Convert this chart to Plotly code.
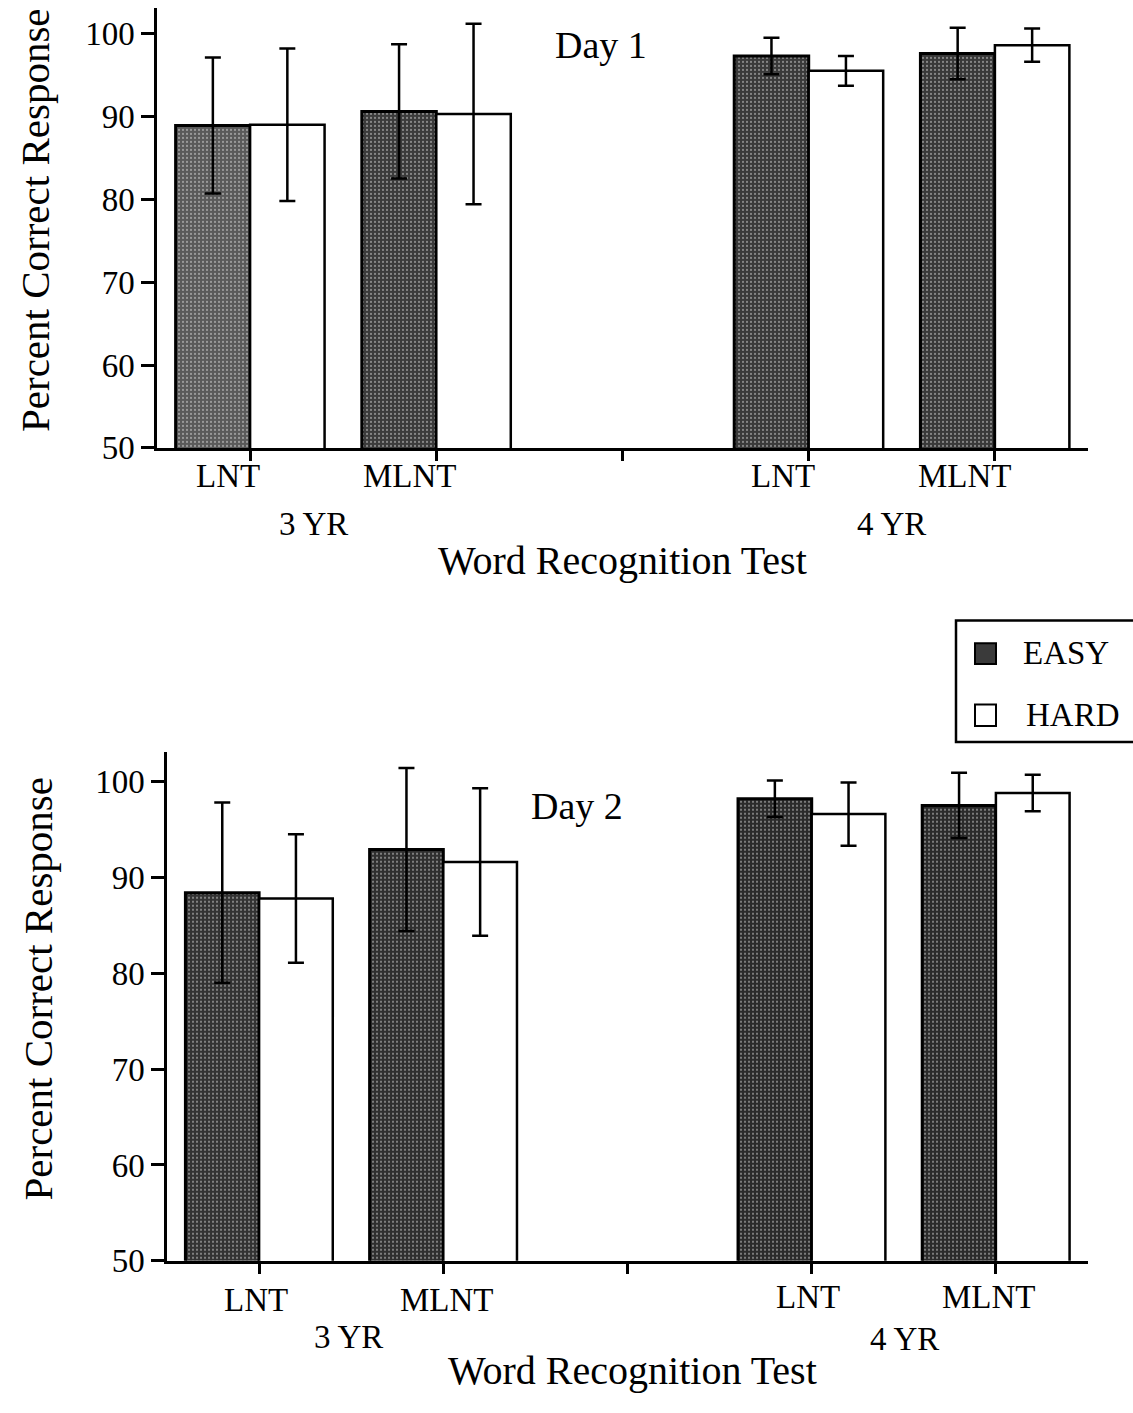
import plotly.graph_objects as go

# ---------------- data ----------------
ages = ["3 YR", "3 YR", "4 YR", "4 YR"]
tests = ["LNT", "MLNT", "LNT", "MLNT"]
series_names = ["EASY", "HARD"]

day1_easy = [88.9, 90.6, 97.3, 97.6]
day1_easy_err = [8.2, 8.1, 2.2, 3.1]
day1_hard = [89.0, 90.3, 95.5, 98.6]
day1_hard_err = [9.2, 10.9, 1.8, 2.0]

day2_easy = [88.4, 92.9, 98.2, 97.5]
day2_easy_err = [9.4, 8.5, 1.9, 3.4]
day2_hard = [87.8, 91.6, 96.6, 98.8]
day2_hard_err = [6.7, 7.7, 3.3, 1.9]

panel_titles = ["Day 1", "Day 2"]
y_ticks = [50, 60, 70, 80, 90, 100]

# ---------------- layout helpers ----------------
W, H = 1133, 1413
def px(x):
    return x / W
def py(y):
    return 1 - y / H

FONT = "Liberation Serif, Times New Roman, serif"
SPACER = " "
cats = [f"{a} {t}" for a, t in zip(ages, tests)]
cat_order = cats[:2] + [SPACER] + cats[2:]

easy_cols = [["#5a5a5a", "#3b3b3b", "#3a3a3a", "#393939"],
             ["#333333", "#2f2f2f", "#2b2b2b", "#2b2b2b"]]

fig = go.Figure()

panels = [
    dict(easy=day1_easy, ee=day1_easy_err, hard=day1_hard, he=day1_hard_err,
         xa="x", ya="y", xdom=[px(157), px(1088)], ydom=[py(454), py(8)]),
    dict(easy=day2_easy, ee=day2_easy_err, hard=day2_hard, he=day2_hard_err,
         xa="x2", ya="y2", xdom=[px(167), px(1088)], ydom=[py(1278), py(762)]),
]

for i, p in enumerate(panels):
    fig.add_trace(go.Bar(
        x=cats, y=p["easy"], name=series_names[0], xaxis=p["xa"], yaxis=p["ya"],
        marker=dict(color=easy_cols[i], line=dict(color="black", width=3),
                    pattern=dict(shape=".", fgcolor="#8c8c8c", size=4, solidity=0.2,
                                 bgcolor=easy_cols[i])),
        error_y=dict(type="data", array=p["ee"], color="black", thickness=2.5, width=8),
        showlegend=False))
    fig.add_trace(go.Bar(
        x=cats, y=p["hard"], name=series_names[1], xaxis=p["xa"], yaxis=p["ya"],
        marker=dict(color="white", line=dict(color="black", width=2.5)),
        error_y=dict(type="data", array=p["he"], color="black", thickness=2.5, width=8),
        showlegend=False))

axis_common = dict(showgrid=False, zeroline=False, showline=True, linecolor="black",
                   linewidth=2.5, ticks="outside", tickcolor="black", tickwidth=2.5)

layout = dict(
    width=W, height=H, margin=dict(l=0, r=0, t=0, b=0),
    paper_bgcolor="white", plot_bgcolor="white",
    barmode="group", bargap=0.2, bargroupgap=0.0,
    font=dict(family=FONT, color="black"),
)
for i, p in enumerate(panels):
    sx = "" if i == 0 else "2"
    layout[f"xaxis{sx}"] = dict(axis_common, domain=p["xdom"], anchor=p["ya"],
                                type="category", categoryorder="array",
                                categoryarray=cat_order, range=[-0.5, 4.5],
                                tickvals=cat_order, ticktext=[""] * 5,
                                ticklen=10, showticklabels=False)
    layout[f"yaxis{sx}"] = dict(axis_common, domain=p["ydom"], anchor=p["xa"],
                                range=[50, 103.1], tickvals=y_ticks, ticklen=13,
                                tickfont=dict(size=33, family=FONT, color="black"))
fig.update_layout(**layout)

ann = []
def text(x, y, s, size, angle=0):
    ann.append(dict(x=px(x), y=py(y), xref="paper", yref="paper", text=s,
                    showarrow=False, textangle=angle, xanchor="center", yanchor="middle",
                    font=dict(size=size, family=FONT, color="black")))

tick_lab_1 = [(228, 482), (410, 482), (783, 482), (965, 482)]
tick_lab_2 = [(256, 1318), (447, 1318), (808, 1315), (989, 1315)]
for (x, y), t in zip(tick_lab_1, tests):
    text(x, y, t, 33)
for (x, y), t in zip(tick_lab_2, tests):
    text(x, y, t, 33)
text(313, 531, ages[0], 33)
text(891, 531, ages[2], 33)
text(348, 1355, ages[0], 33)
text(904, 1357, ages[2], 33)
text(622, 568, "Word Recognition Test", 40)
text(632, 1389, "Word Recognition Test", 40)
text(35, 223, "Percent Correct Response", 41, -90)
text(38, 1002, "Percent Correct Response", 41, -90)
text(601, 46, panel_titles[0], 38)
text(577, 817, panel_titles[1], 38)

# legend
text(1066, 662, series_names[0], 33)
text(1073, 725, series_names[1], 33)

shapes = [
    dict(type="rect", xref="paper", yref="paper", x0=px(956), x1=px(1145),
         y0=py(752), y1=py(629), line=dict(color="black", width=2.5), fillcolor="rgba(0,0,0,0)"),
    dict(type="rect", xref="paper", yref="paper", x0=px(975), x1=px(996),
         y0=py(673), y1=py(652), line=dict(color="black", width=2), fillcolor="#3a3a3a"),
    dict(type="rect", xref="paper", yref="paper", x0=px(975), x1=px(996),
         y0=py(736), y1=py(714), line=dict(color="black", width=2), fillcolor="white"),
]
fig.update_layout(annotations=ann, shapes=shapes)

fig.write_html("out.html")
